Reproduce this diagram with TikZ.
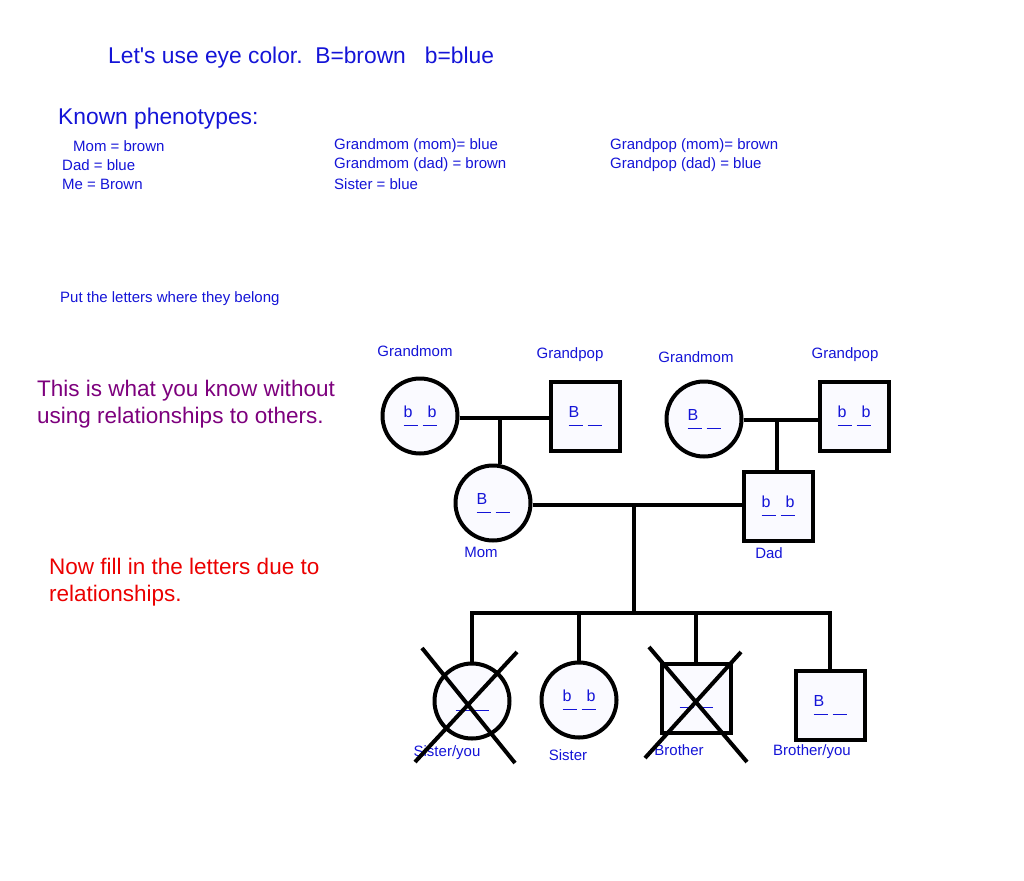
\documentclass[tikz,border=0pt]{standalone}
\usepackage{fontspec}
\setmainfont{Liberation Sans}
\definecolor{txtblue}{RGB}{20,20,215}
\definecolor{txtpurple}{RGB}{125,0,125}
\definecolor{txtred}{RGB}{235,0,0}
\definecolor{shapefill}{RGB}{250,250,255}
\newcommand{\geno}[2]{\vphantom{Bb}\rlap{#1}\rule[-8pt]{14pt}{1pt}\hspace{5pt}\rule[-8pt]{14pt}{1pt}\llap{#2}}
\begin{document}
\begin{tikzpicture}[x=1pt,y=-1pt,
  fem/.style={circle,draw,line width=4pt,minimum size=75pt,inner sep=0pt,fill=shapefill,text=txtblue,font=\fontsize{16}{18}\selectfont},
  male/.style={rectangle,draw,line width=4pt,minimum size=69pt,inner sep=0pt,fill=shapefill,text=txtblue,font=\fontsize{16}{18}\selectfont},
  rel/.style={line width=4pt},
  lab/.style={text=txtblue,font=\fontsize{15}{18}\selectfont,inner sep=0pt},
  big/.style={font=\fontsize{22.8}{27}\selectfont,inner sep=0pt,anchor=west,align=left}]
\useasboundingbox (0,0) rectangle (1024,880);

\node[big,text=txtblue] (title) at (108,58) {Let{\addfontfeatures{Ligatures=TeXOff}'}s use eye color.\ \ B=brown\ \ \ b=blue};
\node[big,text=txtblue] (known) at (58,119) {Known phenotypes:};
\node[lab,anchor=west] (p1) at (73,146) {Mom = brown};
\node[lab,anchor=west] (p2) at (62,165) {Dad = blue};
\node[lab,anchor=west] (p3) at (62,184) {Me = Brown};
\node[lab,anchor=west] (p4) at (334,146) {Grandmom (mom)= blue};
\node[lab,anchor=west] (p5) at (334,165) {Grandmom (dad) = brown};
\node[lab,anchor=west] (p6) at (334,184) {Sister = blue};
\node[lab,anchor=west] (p7) at (610,146) {Grandpop (mom)= brown};
\node[lab,anchor=west] (p8) at (610,165) {Grandpop (dad) = blue};
\node[lab,anchor=west] (put) at (60,299) {Put the letters where they belong};
\node[big,text=txtpurple,font=\fontsize{22.5}{27}\selectfont] (know) at (37,404.5) {This is what you know without\\using relationships to others.};
\node[big,text=txtred,font=\fontsize{22.5}{27}\selectfont] (fill) at (49,582.5) {Now fill in the letters due to\\relationships.};

\node[fem] (gm1) at (420,416) {\geno{b}{b}};
\node[male] (gp1) at (585,416) {\geno{B}{}};
\node[fem] (gm2) at (704,419) {\geno{B}{}};
\node[male] (gp2) at (854,416) {\geno{b}{b}};
\node[fem] (mom) at (493,503) {\geno{B}{}};
\node[male] (dad) at (778,506) {\geno{b}{b}};
\node[fem] (sy) at (472,701) {\geno{}{}};
\node[fem] (sis) at (579,700) {\geno{b}{b}};
\node[male] (bro) at (696,698) {\geno{}{}};
\node[male] (byou) at (830,705) {\geno{B}{}};

\node[lab] (lgm1) at (415,351) {Grandmom};
\node[lab] (lgp1) at (570,355) {Grandpop};
\node[lab] (lgm2) at (696,357) {Grandmom};
\node[lab] (lgp2) at (845,355) {Grandpop};
\node[lab] (lmom) at (481,552) {Mom};
\node[lab] (ldad) at (769,553) {Dad};
\node[lab] (lsy) at (447,753) {Sister/you};
\node[lab] (lsis) at (568,755) {Sister};
\node[lab] (lbro) at (679,750) {Brother};
\node[lab] (lbyou) at (812,752) {Brother/you};

\coordinate (m1) at (500,418);
\coordinate (m2) at (777,420);
\coordinate (m3) at (634,505);
\coordinate (sib) at (634,613);

\draw[rel] (gm1.east |- m1) -- (gp1.west |- m1);
\draw[rel] (m1) -- (m1 |- mom.north);
\draw[rel] (gm2.east |- m2) -- (gp2.west |- m2);
\draw[rel] (m2) -- (m2 |- dad.north);
\draw[rel] (mom.east |- m3) -- (dad.west |- m3);
\draw[rel] (m3) -- (sib);
\draw[rel] (sy.north) -- (sy |- sib) -- (byou |- sib) -- (byou.north);
\draw[rel] (sis |- sib) -- (sis.north);
\draw[rel] (bro |- sib) -- (bro.north);

\draw[rel] ([shift={(-50,-53)}]sy.center) -- ([shift={(43,62)}]sy.center);
\draw[rel] ([shift={(45,-49)}]sy.center) -- ([shift={(-57,61)}]sy.center);
\draw[rel] ([shift={(-47,-51)}]bro.center) -- ([shift={(51,64)}]bro.center);
\draw[rel] ([shift={(45,-46)}]bro.center) -- ([shift={(-51,60)}]bro.center);

\end{tikzpicture}
\end{document}
